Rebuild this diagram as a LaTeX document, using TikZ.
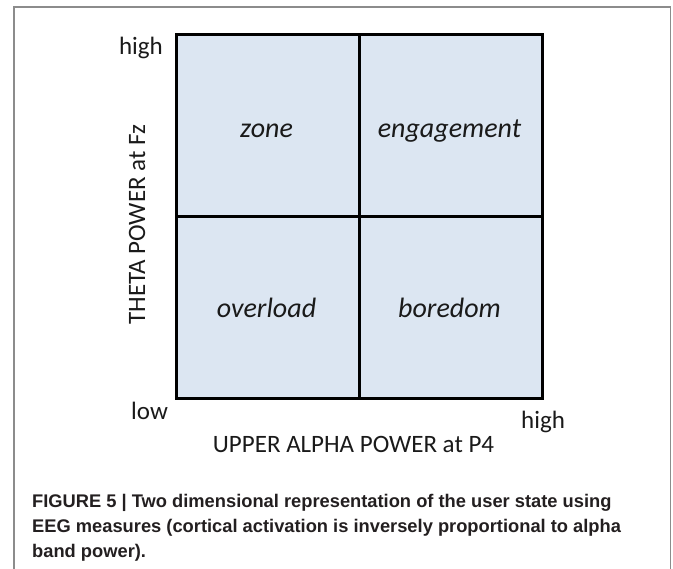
\documentclass[tikz,border=0pt]{standalone}
\usepackage{fontspec}
\setmainfont{Carlito}
\newfontfamily\capfont{Liberation Sans}
\definecolor{cellfill}{HTML}{DCE6F2}
\definecolor{framegray}{HTML}{8C8C8C}
\definecolor{captext}{HTML}{231F20}
\definecolor{labtext}{HTML}{1A1A1A}
\tikzset{
  cell/.style={draw=black, fill=cellfill, line width=2.6pt, minimum width=183pt, minimum height=182pt, inner sep=0pt, anchor=north west},
  celltext/.style={anchor=base, inner sep=0pt, text=labtext, font=\fontsize{28}{33}\selectfont\itshape},
  axlabel/.style={inner sep=0pt, text=labtext, font=\fontsize{25}{30}\selectfont},
  capline/.style={anchor=base west, inner sep=0pt, text=captext, font=\capfont\bfseries\fontsize{18.3}{22}\selectfont},
  frameline/.style={draw=framegray, line width=1.4pt}
}
\begin{document}
\begin{tikzpicture}[x=1pt,y=-1pt]
\useasboundingbox (0,0) rectangle (673,569);
\draw[frameline] (14,569) -- (14,7) -- (670.5,7) -- (670.5,569);
% grid cells
\node[cell] (ul) at (175,33) {};
\node[cell] (ur) at (358,33) {};
\node[cell] (ll) at (175,215) {};
\node[cell] (lr) at (358,215) {};
% cell texts
\node[celltext] (zone) at (266.5,137.3) {zone};
\node[celltext] (eng) at (449.5,137.3) {engagement};
\node[celltext] (over) at (266.5,317.3) {overload};
\node[celltext] (bore) at (449.5,317.3) {boredom};
% axis labels
\node[axlabel, anchor=base east] (yhigh) at (163,55) {high};
\node[axlabel, anchor=base west] (low) at (131,420) {low};
\node[axlabel, anchor=base west] (xhigh) at (521,429) {high};
\node[axlabel, anchor=base] (xlab) at (353.5,453) {UPPER ALPHA POWER at P4};
\node[axlabel, anchor=base, rotate=90] (ylab) at (145,224.5) {THETA POWER at Fz};
% caption
\node[capline] (cap1) at (32,507.7) {FIGURE 5 | Two dimensional representation of the user state using};
\node[capline] (cap2) at (32,532.7) {EEG measures (cortical activation is inversely proportional to alpha};
\node[capline] (cap3) at (32,557.3) {band power).};
\end{tikzpicture}
\end{document}
